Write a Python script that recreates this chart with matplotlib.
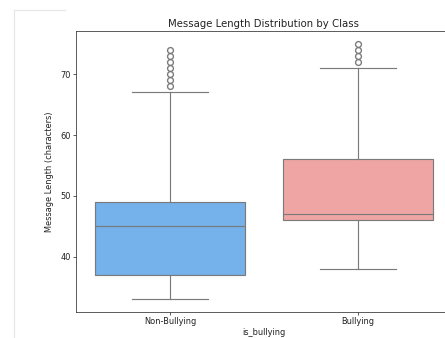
import matplotlib
matplotlib.use("Agg")
import matplotlib.pyplot as plt
from matplotlib.lines import Line2D

# Summary statistics for message length per class
categories = ["Non-Bullying", "Bullying"]
whisker_low = [33, 38]
q1 = [37, 46]
median = [45, 47]
q3 = [49, 56]
whisker_high = [67, 71]
outliers = [
    [68, 69, 70, 71, 72, 73, 74],
    [72, 73, 74, 75],
]
box_colors = ["#75b1ea", "#f0a5a5"]
line_color = "#7a7a7a"

DPI = 70
fig = plt.figure(figsize=(446 / DPI, 338 / DPI), dpi=DPI)
fig.patch.set_facecolor("white")

# light notebook-style frame on the left
fig.lines.append(Line2D([14 / 446, 14 / 446], [0, 1 - 10 / 338],
                        transform=fig.transFigure, color="#e6e6e6", lw=1.2))
fig.lines.append(Line2D([14 / 446, 65 / 446], [1 - 10 / 338, 1 - 10 / 338],
                        transform=fig.transFigure, color="#e6e6e6", lw=1.2))

left, right, top, bottom = 76, 452, 31, 312
ax = fig.add_axes([left / 446, 1 - bottom / 338, (right - left) / 446, (bottom - top) / 338])

stats = []
for i, name in enumerate(categories):
    stats.append(dict(label=name, whislo=whisker_low[i], q1=q1[i], med=median[i],
                      q3=q3[i], whishi=whisker_high[i], fliers=outliers[i]))

lw = 1.2
bp = ax.bxp(stats, positions=range(len(categories)), widths=0.8, patch_artist=True,
            showfliers=True,
            boxprops=dict(edgecolor=line_color, linewidth=lw),
            medianprops=dict(color=line_color, linewidth=lw),
            whiskerprops=dict(color=line_color, linewidth=lw),
            capprops=dict(color=line_color, linewidth=lw),
            flierprops=dict(marker="o", markerfacecolor="none", markeredgecolor=line_color,
                            markersize=6, markeredgewidth=1.4))
for patch, c in zip(bp["boxes"], box_colors):
    patch.set_facecolor(c)

ax.set_xlim(-0.5, 1.5)
lo = min(whisker_low)
hi = max(max(o) for o in outliers)
pad = 0.05 * (hi - lo)
ax.set_ylim(lo - pad, hi + pad)
ax.set_yticks([40, 50, 60, 70])
ax.set_xticks(range(len(categories)))
ax.set_xticklabels(categories)
ax.tick_params(labelsize=8.5, colors="#333333", labelcolor="#222222", length=3, pad=2.5)
ax.set_title("Message Length Distribution by Class", fontsize=10.4, color="#222222", pad=4)
ax.set_xlabel("is_bullying", fontsize=8.5, color="#222222", labelpad=2)
ax.set_ylabel("Message Length (characters)", fontsize=8.5, color="#222222", labelpad=6)
for s in ax.spines.values():
    s.set_color("#333333")

fig.savefig("out.png", dpi=DPI)
